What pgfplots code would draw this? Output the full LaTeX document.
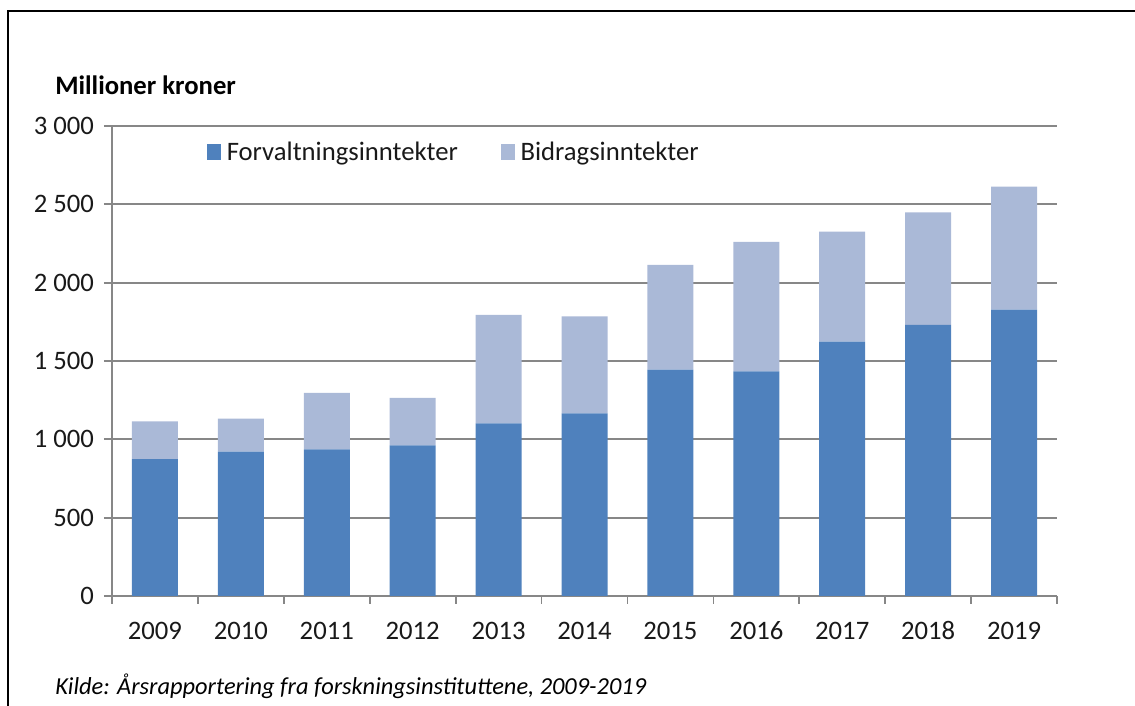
\documentclass[border=0pt]{standalone}
\usepackage{fontspec}
\setmainfont{Carlito}
\usepackage{pgfplots}
\pgfplotsset{compat=1.18}
\definecolor{darkb}{HTML}{4F81BD}
\definecolor{lightb}{HTML}{AAB9D7}
\definecolor{gridg}{HTML}{878787}
\begin{document}
\begin{tikzpicture}
\path[use as bounding box] (0,0) rectangle (851.25pt,529.5pt);
\draw[line width=1.5pt] (6pt,0) -- (6pt,521.25pt) -- (851.25pt,521.25pt);
\begin{axis}[
  at={(84pt,82.5pt)}, anchor=south west,
  width=708.75pt, height=352.5pt, scale only axis,
  ybar stacked, bar width=34.5pt,
  xmin=-0.5, xmax=10.5, ymin=0, ymax=3000,
  axis x line*=bottom, axis y line*=left,
  axis line style={gridg, line width=1.3pt, -},
  xtick={0,...,10},
  xticklabels={2009,2010,2011,2012,2013,2014,2015,2016,2017,2018,2019},
  minor xtick={-0.5,0.5,...,10.5},
  major x tick style={draw=none},
  minor x tick style={gridg, line width=1.3pt},
  ytick={0,500,...,3000},
  yticklabels={0,500,1 000,1 500,2 000,2 500,3 000},
  y tick style={gridg, line width=1.3pt},
  tick align=outside,
  major tick length=6pt, minor tick length=6pt,
  ymajorgrids, grid style={gridg, line width=1.3pt},
  ticklabel style={font=\fontsize{20pt}{23pt}\selectfont, text=black!90},
  xticklabel style={text height=13pt, text depth=0pt, yshift=-10pt},
  yticklabel style={xshift=-4pt},
  legend columns=2,
  legend style={at={(0.1,0.945)}, anchor=west, draw=none, fill=none,
    font=\fontsize{20pt}{23pt}\selectfont, text=black!90, inner sep=0pt},
  legend image code/.code={\fill[#1,draw=none] (0pt,-6pt) rectangle (10.5pt,6pt); \path (13pt,0);},
]
\addplot[fill=darkb, draw=none] coordinates {
(0,873) (1,921) (2,936) (3,962) (4,1102) (5,1166) (6,1445) (7,1434) (8,1623) (9,1730) (10,1828)};
\addlegendentry{Forvaltningsinntekter\hspace*{30pt}}
\addplot[fill=lightb, draw=none] coordinates {
(0,242) (1,211) (2,360) (3,302) (4,692) (5,619) (6,668) (7,826) (8,702) (9,719) (10,785)};
\addlegendentry{Bidragsinntekter}
\end{axis}
\node[anchor=west, inner sep=0pt, font=\bfseries\fontsize{20pt}{23pt}\selectfont] at (41.25pt,465.75pt) {Millioner kroner};
\node[anchor=west, inner sep=0pt, font=\itshape\fontsize{18.3pt}{21pt}\selectfont] at (41.25pt,15pt) {Kilde: Årsrapportering fra forskningsinstituttene, 2009-2019};
\end{tikzpicture}
\end{document}
